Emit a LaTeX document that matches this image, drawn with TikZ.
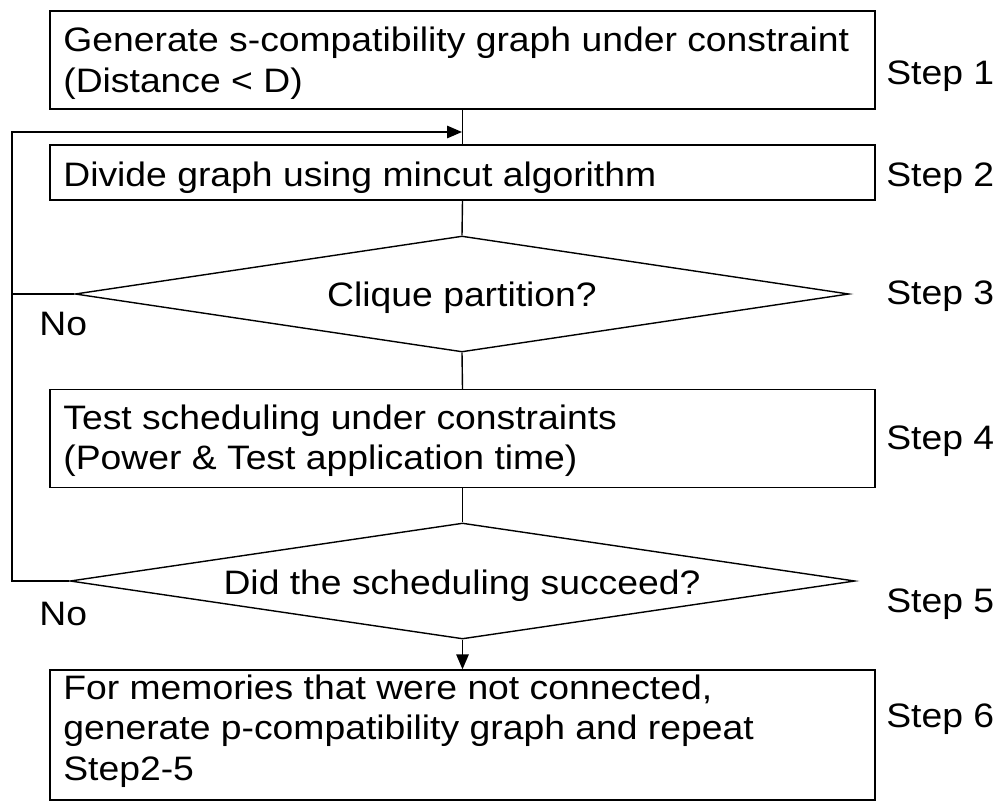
\documentclass[tikz,border=0pt]{standalone}
\usepackage{fontspec}
\setmainfont[FakeStretch=1.1]{Liberation Sans}
\usetikzlibrary{shapes.geometric,arrows.meta}
\begin{document}
\begin{tikzpicture}[x=0.02cm,y=-0.02cm,
  every node/.style={font=\fontsize{19.3}{23}\selectfont},
  line/.style={draw=black,line width=0.8pt},
  arr/.style={line,-{Triangle[length=0.3cm,width=0.25cm]}},
  stepbox/.style={line,rectangle,minimum width=16.5cm,inner sep=0pt},
  decision/.style={line,diamond,inner sep=0pt,aspect=6.7},
  txt/.style={anchor=base west,inner sep=0pt},
]
\useasboundingbox (0,0) rectangle (1000,805);

% process boxes and decisions
\node[stepbox,minimum height=1.96cm] (b1) at (462.5,60) {};
\node[stepbox,minimum height=1.10cm] (b2) at (462.5,172.5) {};
\node[decision,minimum width=15.48cm,minimum height=2.32cm] (d1) at (462,294) {};
\node[stepbox,minimum height=1.96cm] (b4) at (462.5,438.5) {};
\node[decision,minimum width=15.7cm,minimum height=2.32cm] (d2) at (462.5,581) {};
\node[stepbox,minimum height=2.60cm] (b6) at (462.5,735) {};

% texts
\node[txt] (t1a) at (63,51) {Generate s-compatibility graph under constraint};
\node[txt] (t1b) at (63,92) {(Distance < D)};
\node[txt] (t2) at (63,186) {Divide graph using mincut algorithm};
\node[txt,anchor=base] (t3) at (462,306) {Clique partition?};
\node[txt] (t4a) at (63,429) {Test scheduling under constraints};
\node[txt] (t4b) at (63,469) {(Power \& Test application time)};
\node[txt,anchor=base] (t5) at (462,594) {Did the scheduling succeed?};
\node[txt] (t6a) at (63,699) {For memories that were not connected,};
\node[txt] (t6b) at (63,739) {generate p-compatibility graph and repeat};
\node[txt] (t6c) at (63,780) {Step2-5};

% step labels
\node[txt] (s1) at (886,84) {Step 1};
\node[txt] (s2) at (886,186) {Step 2};
\node[txt] (s3) at (886,304) {Step 3};
\node[txt] (s4) at (886,449) {Step 4};
\node[txt] (s5) at (886,612) {Step 5};
\node[txt] (s6) at (886,727) {Step 6};

% branch labels
\node[txt] (no1) at (39,335) {No};
\node[txt] (no2) at (39,625) {No};

% main flow
\coordinate (join) at (462,132);
\coordinate (lx) at (12,0);
\draw[line] (b1.south) -- (b2.north);
\draw[line] (b2.south) -- (d1.north);
\draw[line] (d1.south) -- (b4.north);
\draw[line] (b4.south) -- (d2.north);
\draw[arr] (d2.south) -- (b6.north);

% feedback loop for the "No" branches
\draw[line] (d1.west) -- (d1.west -| lx);
\draw[arr] (d2.west) -- (d2.west -| lx) |- (join);
\end{tikzpicture}
\end{document}
